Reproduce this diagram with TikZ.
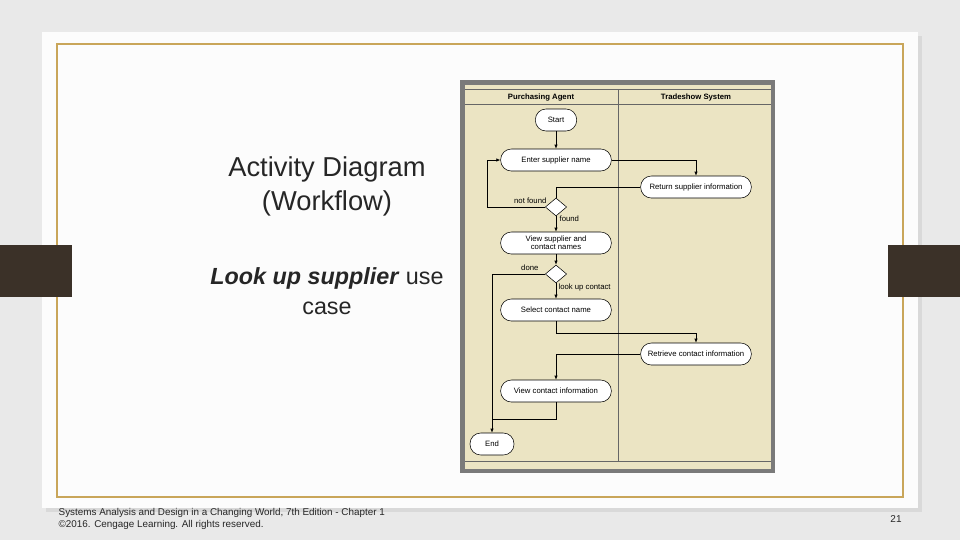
\documentclass[tikz,border=0pt]{standalone}
\usepackage{fontspec}
\setmainfont{Liberation Sans}
\usetikzlibrary{shapes.geometric,arrows.meta}
\definecolor{bgc}{HTML}{E9E9E9}
\definecolor{gold}{HTML}{C9A65A}
\definecolor{bar}{HTML}{3B3128}
\definecolor{beige}{HTML}{EBE4C3}
\definecolor{frm}{HTML}{7A7A7A}
\begin{document}
\begin{tikzpicture}[x=0.75pt,y=-0.75pt,
  act/.style={draw,fill=white,rounded corners=8pt,minimum height=16.5pt,font=\fontsize{5.8}{6.3}\selectfont,align=center,inner sep=1pt},
  dec/.style={draw,fill=white,diamond,minimum width=16pt,minimum height=13.5pt,inner sep=0pt},
  lbl/.style={font=\fontsize{5.8}{6.3}\selectfont,inner sep=1pt},
  hdr/.style={font=\fontsize{5.8}{6.3}\selectfont\bfseries,text height=4.5pt,text depth=1.3pt},
  fl/.style={draw=black,line width=0.5pt},
  ar/.style={fl,-{Latex[length=3pt,width=2.5pt]}}]
\useasboundingbox (0,0) rectangle (960,540);
\fill[bgc] (0,0) rectangle (960,540);
\fill[black!15] (46,36) rectangle (922,512);
\fill[white!98!gray] (42,32) rectangle (918,508);
\draw[gold,line width=1pt] (57,44) rectangle (903,497);
\fill[bar] (0,245) rectangle (72,297);
\fill[bar] (888,245) rectangle (960,297);
% diagram
\fill[frm] (460,80) rectangle (775,473);
\fill[beige] (465,85) rectangle (771,469);
\draw[black!60,line width=0.4pt] (465,89) -- (771,89) (465,104) -- (771,104) (465,461) -- (771,461) (618,89) -- (618,461);
\node[hdr] (h1) at (541,97) {Purchasing Agent};
\node[hdr] (h2) at (696,97) {Tradeshow System};
\node[act,minimum width=31pt] (start) at (556,120) {Start};
\node[act,minimum width=83pt] (enter) at (556,160) {Enter supplier name};
\node[act,minimum width=83pt] (ret) at (696,187) {Return supplier information};
\node[dec] (d1) at (556,207) {};
\node[act,minimum width=83pt] (view) at (556,243) {View supplier and\\contact names};
\node[dec] (d2) at (556,274) {};
\node[act,minimum width=83pt] (sel) at (556,310) {Select contact name};
\node[act,minimum width=83pt] (retr) at (696,354) {Retrieve contact information};
\node[act,minimum width=83pt] (vci) at (556,391) {View contact information};
\node[act,minimum width=33pt] (end) at (492,444) {End};
\node[lbl,anchor=east] (nf) at (548,201) {not found};
\node[lbl,anchor=west] (fd) at (558,219) {found};
\node[lbl,anchor=east] (dn) at (540,268) {done};
\node[lbl,anchor=west] (lc) at (557,287) {look up contact};
\coordinate (c1) at (696,160);
\coordinate (c2) at (556,187);
\coordinate (c3) at (487,207);
\coordinate (c4) at (487,160);
\coordinate (c5) at (492,274);
\coordinate (c6) at (556,333);
\coordinate (c7) at (696,333);
\coordinate (c8) at (556,354);
\coordinate (c9) at (556,419);
\coordinate (c10) at (492,419);
\draw[ar] (start) -- (enter);
\draw[ar] (enter.east) -- (c1) -- (ret.north);
\draw[fl] (ret.west) -- (c2) -- (d1.north);
\draw[ar] (d1.west) -- (c3) -- (c4) -- (enter.west);
\draw[ar] (d1.south) -- (view.north);
\draw[ar] (view.south) -- (d2.north);
\draw[ar] (d2.west) -- (c5) -- (end.north);
\draw[ar] (d2.south) -- (sel.north);
\draw[ar] (sel.south) -- (c6) -- (c7) -- (retr.north);
\draw[ar] (retr.west) -- (c8) -- (vci.north);
\draw[fl] (vci.south) -- (c9) -- (c10);
% text
\node[font=\fontsize{20.5}{25.5}\selectfont,align=center,text=black!85] (t1) at (327,186) {Activity Diagram\\(Workflow)};
\node[font=\fontsize{17.5}{22}\selectfont,align=center,text=black!85] (t2) at (327,291) {\textbf{\textit{Look up supplier}} use\\case};
\node[font=\fontsize{7.4}{9}\selectfont,align=left,anchor=west,text=black!85] (ft) at (54,519) {Systems Analysis and Design in a Changing World, 7th Edition - Chapter 1\\©2016. Cengage Learning. All rights reserved.};
\node[font=\fontsize{7.5}{9}\selectfont,text=black!85] (pg) at (896,519) {21};
\end{tikzpicture}
\end{document}
